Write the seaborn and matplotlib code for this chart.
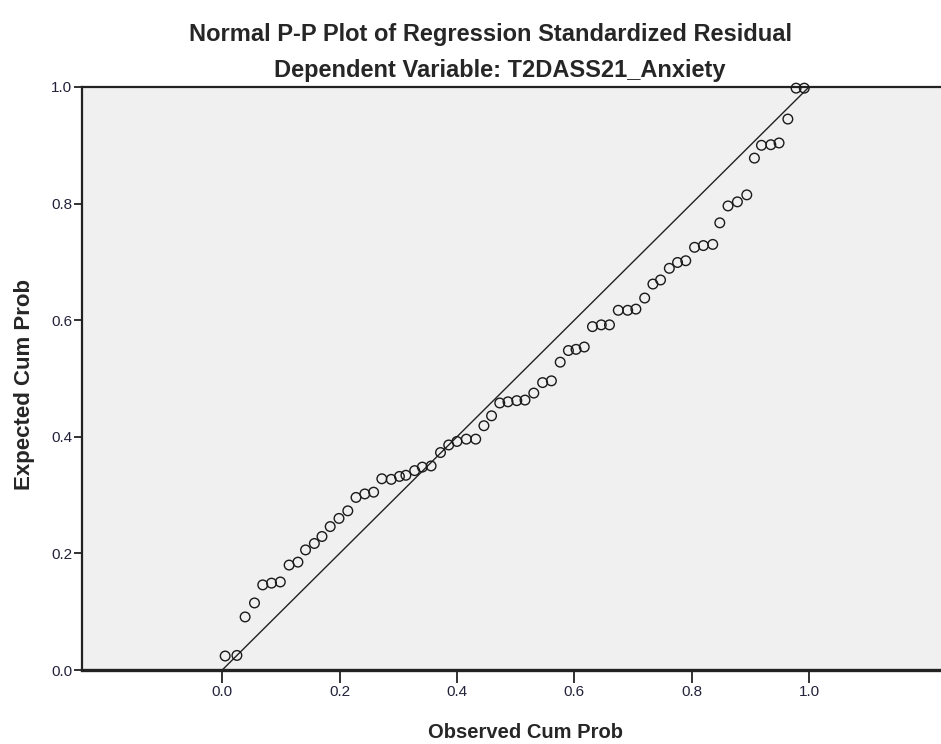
import numpy as np
import pandas as pd
import seaborn as sns
import matplotlib.pyplot as plt
from matplotlib import font_manager

# observed vs expected cumulative probabilities
obs_cum_prob = [0.005, 0.025, 0.039, 0.055, 0.069, 0.084, 0.099, 0.114, 0.129, 0.142,
                0.157, 0.170, 0.184, 0.199, 0.214, 0.228, 0.243, 0.258, 0.272, 0.288,
                0.302, 0.313, 0.328, 0.341, 0.356, 0.372, 0.386, 0.400, 0.416, 0.432,
                0.446, 0.459, 0.473, 0.487, 0.502, 0.516, 0.531, 0.546, 0.561, 0.576,
                0.590, 0.603, 0.617, 0.631, 0.646, 0.660, 0.675, 0.691, 0.705, 0.720,
                0.734, 0.747, 0.762, 0.776, 0.790, 0.805, 0.820, 0.836, 0.848, 0.862,
                0.878, 0.894, 0.907, 0.919, 0.935, 0.949, 0.964, 0.978, 0.992]
exp_cum_prob = [0.024, 0.025, 0.091, 0.115, 0.146, 0.149, 0.151, 0.180, 0.185, 0.206,
                0.217, 0.229, 0.246, 0.260, 0.273, 0.296, 0.302, 0.305, 0.328, 0.327,
                0.332, 0.334, 0.342, 0.348, 0.350, 0.373, 0.386, 0.392, 0.396, 0.396,
                0.419, 0.436, 0.458, 0.460, 0.462, 0.463, 0.475, 0.493, 0.496, 0.528,
                0.548, 0.550, 0.554, 0.589, 0.592, 0.592, 0.617, 0.617, 0.619, 0.638,
                0.662, 0.669, 0.689, 0.699, 0.702, 0.725, 0.728, 0.730, 0.767, 0.796,
                0.803, 0.815, 0.878, 0.900, 0.901, 0.904, 0.945, 0.998, 0.998]
ref_line = [0.0, 1.0]
tick_vals = [0.0, 0.2, 0.4, 0.6, 0.8, 1.0]

title_1 = 'Normal P-P Plot of Regression Standardized Residual'
title_2 = 'Dependent Variable: T2DASS21_Anxiety'

sns.set_theme(style='white')

installed = {f.name for f in font_manager.fontManager.ttflist}
narrow = 'Liberation Sans Narrow' if 'Liberation Sans Narrow' in installed else 'Liberation Sans'
plt.rcParams['font.family'] = [narrow, 'DejaVu Sans']

df = pd.DataFrame({'observed': obs_cum_prob, 'expected': exp_cum_prob})

W, H = 941, 744
fig = plt.figure(figsize=(W / 100, H / 100), dpi=100)
ax = fig.add_axes([82 / W, 1 - 670 / H, (W - 82) / W, (670 - 87) / H])
ax.set_facecolor('#f0f0f0')

sns.lineplot(x=ref_line, y=ref_line, color='#222222', linewidth=1.0, ax=ax)
sns.scatterplot(data=df, x='observed', y='expected', marker='o', s=48,
                facecolors='none', edgecolor='#1a1a1a', linewidth=1.0,
                clip_on=False, zorder=3, ax=ax)

ax.set_xlim(-0.239, 1.225)
ax.set_ylim(0, 1)
ax.set_xticks(tick_vals)
ax.set_yticks(tick_vals)
ax.set_xticklabels([f'{v:.1f}' for v in tick_vals], fontsize=11, color='#22223a')
ax.set_yticklabels([f'{v:.1f}' for v in tick_vals], fontsize=11, color='#22223a')
ax.tick_params(axis='x', direction='out', length=9, width=1.3, color='#222222', pad=2,
               bottom=True)
ax.tick_params(axis='y', direction='out', length=6, width=1.3, color='#222222', pad=1,
               left=True)
ax.set_xlabel('')
ax.set_ylabel('')

for side in ['left', 'top', 'bottom']:
    ax.spines[side].set_visible(True)
    ax.spines[side].set_color('#222222')
    ax.spines[side].set_linewidth(1.6)
ax.spines['bottom'].set_linewidth(2.4)
ax.spines['right'].set_visible(False)

fig.text(490 / W, 1 - 35 / H, title_1, ha='center', va='center', fontsize=17,
         fontweight='bold')
fig.text(500 / W, 1 - 70 / H, title_2, ha='center', va='center', fontsize=17,
         fontweight='bold')
fig.text(525 / W, 1 - 733 / H, 'Observed Cum Prob', ha='center', va='center',
         fontsize=14.5, fontweight='bold')
fig.text(25 / W, 1 - 384 / H, 'Expected Cum Prob', ha='center', va='center',
         rotation=90, fontsize=16, fontweight='bold')

fig.savefig('out.png', dpi=100)
